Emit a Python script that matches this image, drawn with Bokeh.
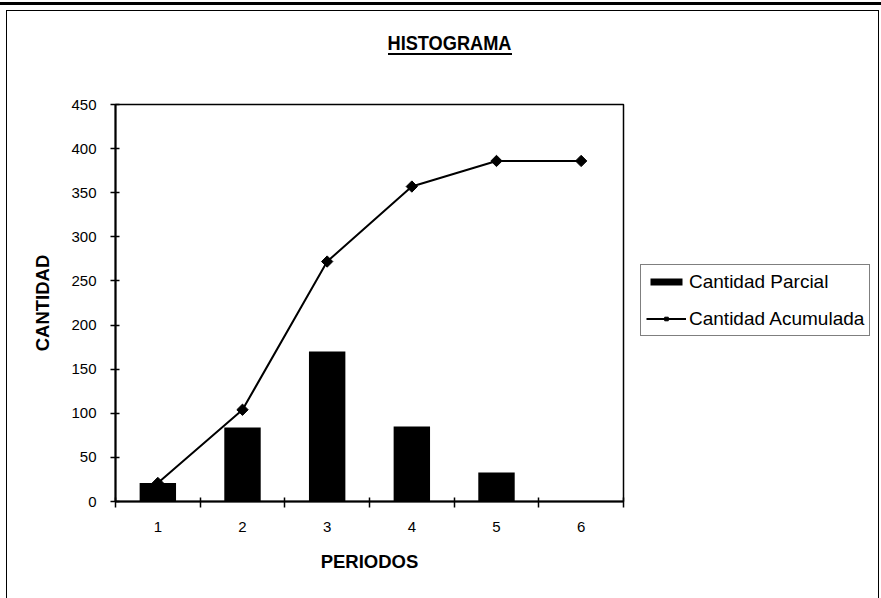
import math
from bokeh.plotting import figure
from bokeh.models import FixedTicker, Legend, LegendItem, ColumnDataSource, Div
from bokeh.layouts import column
from bokeh.embed import file_html
from bokeh.resources import INLINE

# ---- data ----
periods = ["1", "2", "3", "4", "5", "6"]
cantidad_parcial = [21, 84, 170, 85, 33, 0]
cantidad_acumulada = [21, 104, 272, 357, 386, 386]
y_ticks = [0, 50, 100, 150, 200, 250, 300, 350, 400, 450]
title_text = "HISTOGRAMA"

x_pos = list(range(1, len(periods) + 1))
src = ColumnDataSource(dict(x=x_pos, parcial=cantidad_parcial, acum=cantidad_acumulada))

SANS = "'Liberation Sans', Arial, sans-serif"

# ---- title block + outer chart frame (HTML) ----
head_html = (
    '<div style="position:absolute;left:0;top:2px;width:881px;height:3px;background:#000"></div>'
    '<div style="position:absolute;left:6px;top:10px;width:873px;height:588px;'
    'border-left:1.5px solid #000;border-top:1.5px solid #000;border-right:1.5px solid #000;'
    'box-sizing:border-box"></div>'
    '<div style="position:absolute;left:0;top:32px;width:899px;text-align:center;'
    "font:bold 21px/21px 'Liberation Sans',Arial,sans-serif;color:#000;"
    'transform:scaleX(0.866)">' + title_text + '</div>'
    '<div style="position:absolute;left:388px;top:53px;width:124px;height:2px;background:#000"></div>'
)
head = Div(text=head_html, width=881, height=60, margin=0)

p = figure(width=881, height=538, frame_width=508, frame_height=397,
           min_border_left=115, min_border_right=258, min_border_top=44, min_border_bottom=97,
           x_range=(0.5, len(periods) + 0.5), y_range=(0, 450),
           output_backend="svg", toolbar_location=None, title=None, margin=0)

p.background_fill_color = "white"
p.border_fill_color = None
p.outline_line_color = "black"
p.outline_line_width = 1.5
p.xgrid.grid_line_color = None
p.ygrid.grid_line_color = None

bars = p.vbar(x="x", top="parcial", width=0.43, source=src, fill_color="black", line_color=None)
line = p.line(x="x", y="acum", source=src, line_color="black", line_width=2)
pts = p.scatter(x="x", y="acum", source=src, marker="square", angle=math.pi / 4, size=8,
                fill_color="black", line_color="black")

# x axis: labels at category centres, ticks at category boundaries
xa = p.xaxis[0]
xa.ticker = FixedTicker(ticks=x_pos, minor_ticks=[v - 0.5 for v in x_pos] + [x_pos[-1] + 0.5])
xa.major_label_overrides = {v: lab for v, lab in zip(x_pos, periods)}
xa.major_tick_in = 0
xa.major_tick_out = 0
xa.minor_tick_in = 4
xa.minor_tick_out = 6
xa.minor_tick_line_color = "black"
xa.minor_tick_line_width = 1.5
xa.axis_line_color = "black"
xa.axis_line_width = 2
xa.major_label_text_font = SANS
xa.major_label_text_font_size = "15px"
xa.major_label_text_color = "black"
xa.major_label_standoff = 14
xa.axis_label = "PERIODOS"
xa.axis_label_text_font = SANS
xa.axis_label_text_font_style = "bold"
xa.axis_label_text_font_size = "18.5px"
xa.axis_label_text_color = "black"
xa.axis_label_standoff = 16

ya = p.yaxis[0]
ya.ticker = FixedTicker(ticks=y_ticks, minor_ticks=[])
ya.major_tick_in = 4
ya.major_tick_out = 5
ya.major_tick_line_color = "black"
ya.major_tick_line_width = 1.5
ya.axis_line_color = "black"
ya.axis_line_width = 2
ya.major_label_text_font = SANS
ya.major_label_text_font_size = "15px"
ya.major_label_text_color = "black"
ya.major_label_standoff = 14
ya.axis_label = "CANTIDAD"
ya.axis_label_text_font = SANS
ya.axis_label_text_font_style = "bold"
ya.axis_label_text_font_size = "18.5px"
ya.axis_label_text_color = "black"
ya.axis_label_standoff = 15

legend = Legend(items=[LegendItem(label="Cantidad Parcial", renderers=[bars]),
                       LegendItem(label="Cantidad Acumulada", renderers=[line, pts])],
                location=(17, 165))
legend.border_line_color = "black"
legend.border_line_width = 1
legend.background_fill_color = "white"
legend.background_fill_alpha = 1
legend.label_text_font = SANS
legend.label_text_font_size = "19px"
legend.label_text_color = "black"
legend.padding = 5
legend.spacing = 14
legend.margin = 0
legend.glyph_width = 40
legend.glyph_height = 9
legend.label_standoff = 3
legend.label_height = 23
p.add_layout(legend, "right")

root = column(head, p, spacing=0, margin=0)
open("out.html", "w").write(file_html(root, INLINE))
